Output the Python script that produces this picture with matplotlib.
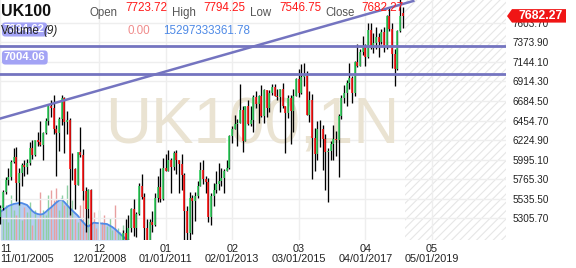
import numpy as np
from matplotlib import pyplot as plt
from matplotlib.patches import Polygon

plt.rcParams['font.family'] = ['Liberation Sans', 'DejaVu Sans']

symbol = 'UK100'
last_ohlc = [7723.72, 7794.25, 7546.75, 7682.27]
vol_now = '0.00'
vol_ma_now = '15297333361.78'

# monthly bars, 11/2005 .. 06/2018
opens = [5317, 5423,
         5619, 5760, 5792, 5965, 6023, 5723, 5833, 5928, 5906, 5961, 6129, 6049,
         6221, 6203, 6172, 6308, 6449, 6621, 6608, 6360, 6303, 6467, 6722, 6432,
         6457, 5880, 5884, 5702, 6087, 6053, 5626, 5412, 5637, 4902, 4377, 4288,
         4434, 4149, 3830, 3926, 4244, 4418, 4249, 4608, 4909, 5134, 5045, 5191,
         5413, 5189, 5355, 5680, 5553, 5188, 4917, 5258, 5225, 5549, 5675, 5528,
         5900, 5863, 5994, 5909, 6070, 5990, 5946, 5815, 5395, 5128, 5544, 5505,
         5572, 5682, 5872, 5768, 5738, 5321, 5571, 5635, 5711, 5742, 5783, 5867,
         5898, 6277, 6361, 6412, 6430, 6583, 6215, 6621, 6413, 6462, 6731, 6651,
         6749, 6510, 6810, 6598, 6780, 6845, 6744, 6730, 6820, 6623, 6546, 6723,
         6566, 6749, 6946, 6773, 6961, 6985, 6521, 6696, 6248, 6062, 6361, 6356,
         6242, 6084, 6097, 6175, 6242, 6231, 6504, 6724, 6782, 6899, 6954, 6784,
         7143, 7099, 7263, 7323, 7204, 7520, 7313, 7372, 7431, 7373, 7493, 7327,
         7688, 7534, 7232, 7057, 7509, 7723.72]
highs = [5460, 5638,
         5790, 5900, 5990, 6132, 6138, 5900, 5960, 5990, 6000, 6200, 6230, 6230,
         6320, 6450, 6320, 6480, 6650, 6700, 6750, 6400, 6500, 6750, 6730, 6570,
         6480, 6070, 5900, 6090, 6380, 6120, 5670, 5650, 5650, 4980, 4590, 4470,
         4640, 4500, 4000, 4250, 4520, 4500, 4620, 4930, 5170, 5300, 5350, 5430,
         5530, 5380, 5720, 5830, 5600, 5300, 5300, 5390, 5600, 5800, 5900, 6010,
         6060, 6110, 6010, 6100, 6110, 5990, 6060, 5840, 5450, 5620, 5580, 5620,
         5740, 5970, 5990, 5800, 5780, 5600, 5720, 5860, 5960, 5900, 5880, 5990,
         6280, 6390, 6520, 6470, 6880, 6620, 6630, 6700, 6620, 6750, 6800, 6760,
         6870, 6820, 6810, 6810, 6880, 6880, 6830, 6830, 6900, 6630, 6750, 6750,
         6830, 6960, 7060, 7120, 7130, 7040, 6800, 6770, 6370, 6450, 6460, 6400,
         6300, 6130, 6210, 6400, 6330, 6530, 6750, 6870, 6930, 7130, 6980, 7150,
         7360, 7300, 7450, 7350, 7600, 7600, 7480, 7560, 7480, 7530, 7560, 7700,
         7790, 7600, 7290, 7520, 7900, 7794.25]
lows = [5240, 5400,
        5590, 5700, 5760, 5950, 5506, 5467, 5690, 5800, 5830, 5930, 6000, 6040,
        6160, 6150, 5990, 6300, 6400, 6500, 6300, 5800, 6100, 6400, 6070, 6300,
        5340, 5760, 5410, 5700, 6030, 5520, 5150, 5310, 4780, 3660, 3870, 4080,
        4050, 3800, 3460, 3800, 4200, 4240, 4120, 4550, 4780, 5000, 5000, 5150,
        5100, 5080, 5350, 5530, 4950, 4920, 4800, 5150, 5220, 5500, 5500, 5520,
        5860, 5860, 5600, 5870, 5830, 5600, 5640, 4790, 4940, 4860, 5120, 5270,
        5550, 5680, 5710, 5600, 5260, 5230, 5450, 5600, 5640, 5690, 5600, 5860,
        5890, 6190, 6350, 6150, 6420, 6080, 6210, 6400, 6390, 6320, 6600, 6430,
        6500, 6420, 6500, 6560, 6760, 6740, 6700, 6560, 6600, 6070, 6480, 6180,
        6320, 6740, 6730, 6770, 6860, 6520, 6440, 5770, 5860, 5990, 6140, 5870,
        5640, 5500, 5990, 5990, 6040, 5790, 6470, 6660, 6630, 6830, 6660, 6740,
        7080, 7090, 7230, 7090, 7190, 7300, 7250, 7300, 7200, 7350, 7260, 7300,
        7510, 7070, 6860, 7050, 7500, 7546.75]
closes = [5423, 5619,
          5760, 5792, 5965, 6023, 5723, 5833, 5928, 5906, 5961, 6129, 6049, 6221,
          6203, 6172, 6308, 6449, 6621, 6608, 6360, 6303, 6467, 6722, 6432, 6457,
          5880, 5884, 5702, 6087, 6053, 5626, 5412, 5637, 4902, 4377, 4288, 4434,
          4149, 3830, 3926, 4244, 4418, 4249, 4608, 4909, 5134, 5045, 5191, 5413,
          5189, 5355, 5680, 5553, 5188, 4917, 5258, 5225, 5549, 5675, 5528, 5900,
          5863, 5994, 5909, 6070, 5990, 5946, 5815, 5395, 5128, 5544, 5505, 5572,
          5682, 5872, 5768, 5738, 5321, 5571, 5635, 5711, 5742, 5783, 5867, 5898,
          6277, 6361, 6412, 6430, 6583, 6215, 6621, 6413, 6462, 6731, 6651, 6749,
          6510, 6810, 6598, 6780, 6845, 6744, 6730, 6820, 6623, 6546, 6723, 6566,
          6749, 6946, 6773, 6961, 6985, 6521, 6696, 6248, 6062, 6361, 6356, 6242,
          6084, 6097, 6175, 6242, 6231, 6504, 6724, 6782, 6899, 6954, 6784, 7143,
          7099, 7263, 7323, 7204, 7520, 7313, 7372, 7431, 7373, 7493, 7327, 7688,
          7534, 7232, 7057, 7509, 7678, 7682.27]

# volume only exists for the first months
volume = [50, 22, 35, 18, 45, 30, 25, 40, 20, 33, 28, 38, 15, 30, 22, 48,
          30, 25, 45, 50, 40, 52, 30, 45, 35, 55, 28, 40, 22, 18, 35, 45,
          20, 25, 15, 28, 12, 30, 18, 25, 14, 22, 10, 35, 12, 8, 15, 5]
volume_ma = [28, 30, 32, 34, 35, 36, 36.5, 37, 37, 36, 35, 32, 29, 27, 26, 25.5,
             26, 28, 30.5, 32.5, 35, 37.5, 39.5, 40.5, 38, 35, 32, 29.5, 27, 24.5, 21, 18,
             15, 13.5, 15.5, 17.3, 17, 16.8, 16.5, 16.2, 16, 14.5, 13, 11, 8.5, 6, 3.5, 1.5, 0]

price_ticks = [5305.70, 5535.50, 5765.30, 5995.10, 6224.90, 6454.70,
               6684.50, 6914.30, 7144.10, 7373.90, 7603.70]
date_pos = [0, 37, 62, 87, 112, 137, 162]
date_labels = ['11\n11/01/2005', '12\n12/01/2008', '01\n01/01/2011', '02\n02/01/2013',
               '03\n03/01/2015', '04\n04/01/2017', '05\n05/01/2019']

levels = [7334.62, 7004.06]
trend_x = [0, 155]
trend_y = [6479, 7860]

W, H = 576, 268


def fx(x):
    return x / W


def fy(y):
    return 1 - y / H


fig = plt.figure(figsize=(W / 100, H / 100), dpi=100)
rect = [0, 28 / H, 506 / W, 240 / H]
xmin, xmax = -0.15, 189.8
ymin, ymax = 5050.6, 7871.6

# volume layer (behind everything)
axv = fig.add_axes(rect)
axv.set_xlim(xmin, xmax)
axv.set_ylim(0, 240)
axv.axis('off')
vx = np.arange(len(volume))
vup = np.array(closes[:len(volume)]) >= np.array(opens[:len(volume)])
axv.vlines(vx[vup], 0, np.array(volume)[vup], color='#8fd0a4', lw=1.0)
axv.vlines(vx[~vup], 0, np.array(volume)[~vup], color='#e8a0a0', lw=1.0)
mx = np.arange(len(volume_ma))
axv.fill_between(mx, 0, volume_ma, color='#a9c5f2', alpha=0.85, lw=0)
axv.plot(mx, volume_ma, color='#4f8ae6', lw=1.3)

ax = fig.add_axes(rect)
ax.set_facecolor('none')
ax.set_xlim(xmin, xmax)
ax.set_ylim(ymin, ymax)
for s in ax.spines.values():
    s.set_visible(False)
ax.set_xticks(date_pos)
ax.set_xticklabels(date_labels, fontsize=7.8, color='#222222', linespacing=0.95)
ax.get_xticklabels()[0].set_horizontalalignment('left')
ax.yaxis.tick_right()
ax.set_yticks(price_ticks)
ax.set_yticklabels(['%.2f' % p for p in price_ticks], fontsize=7.2, color='#222222')
ax.tick_params(axis='both', length=0)
ax.tick_params(axis='y', pad=4.5)
ax.tick_params(axis='x', pad=3)
ax.grid(color='#eeeeee', lw=1.0)
ax.set_axisbelow(True)

# future zone
plt.rcParams['hatch.linewidth'] = 0.8
ax.axvspan(152, xmax, facecolor='none', edgecolor='#e6e6e6', hatch='////', lw=0, zorder=0.5)

# watermark
ax.text(252.5 / 506, 1 - 143 / 240, 'UK100,1N', transform=ax.transAxes, fontsize=46,
        color='#eae3d2', ha='center', va='baseline', zorder=0.6)

# bars
o = np.array(opens)
h = np.array(highs)
lo = np.array(lows)
c = np.array(closes)
idx = np.arange(len(c))
up = c >= o
ax.vlines(idx, lo, h, color='black', lw=0.95, zorder=2)
ax.vlines(idx[up], o[up], c[up], color='#2fd15c', lw=1.15, zorder=3)
ax.vlines(idx[~up], o[~up], c[~up], color='#ff1010', lw=1.15, zorder=3)

# drawings
for lv in levels:
    ax.axhline(lv, color='#7474c0', lw=2.0, zorder=4)
ax.plot(trend_x, trend_y, color='#7474c0', lw=1.8, zorder=4)

# level tags
box = dict(boxstyle='round,pad=0.18,rounding_size=0.3', fc='#a3a3f5', ec='none')
fig.text(fx(4), fy(29.5), '%.2f' % levels[0], fontsize=8.2, color='white', weight='bold',
         va='center', ha='left', bbox=box, zorder=5)
fig.text(fx(4), fy(57.5), '%.2f' % levels[1], fontsize=8.2, color='white', weight='bold',
         va='center', ha='left', bbox=box, zorder=5)

# header
fig.text(fx(1), fy(15.5), symbol, fontsize=11.5, weight='bold', color='#111111', va='baseline')
heads = ['Open', 'High', 'Low', 'Close']
head_x = [89, 172, 250, 325]
val_x = [125, 203, 279, 361]
for name, hx, vxp, val in zip(heads, head_x, val_x, last_ohlc):
    fig.text(fx(hx), fy(16), name, fontsize=8.3, color='#555555', va='baseline')
    fig.text(fx(vxp), fy(11), '%.2f' % val, fontsize=8.4, color='#ff1a1a', va='baseline')

fig.text(fx(1), fy(34), 'Volume', fontsize=8.4, color='#222222', va='baseline', zorder=6)
fig.text(fx(43), fy(34), '(9)', fontsize=8.4, color='#222222', style='italic', va='baseline', zorder=6)
fig.text(fx(127), fy(34), vol_now, fontsize=8.4, color='#f08c8c', va='baseline')
fig.text(fx(163), fy(34), vol_ma_now, fontsize=8.4, color='#4f8ae6', va='baseline')

# last price tag
py = 218.3 - (last_ohlc[3] - 5305.7) / 11.754
tag = [(507, py), (512, py - 7), (566, py - 7), (566, py + 6.5), (512, py + 6.5)]
fig.patches.append(Polygon([(fx(a), fy(b)) for a, b in tag], closed=True,
                           transform=fig.transFigure, fc='#f01515', ec='none', zorder=10))
fig.text(fx(541), fy(py), '%.2f' % last_ohlc[3], fontsize=8.8, weight='bold', color='white',
         ha='center', va='center', zorder=11)

plt.savefig('out.png', dpi=100)
